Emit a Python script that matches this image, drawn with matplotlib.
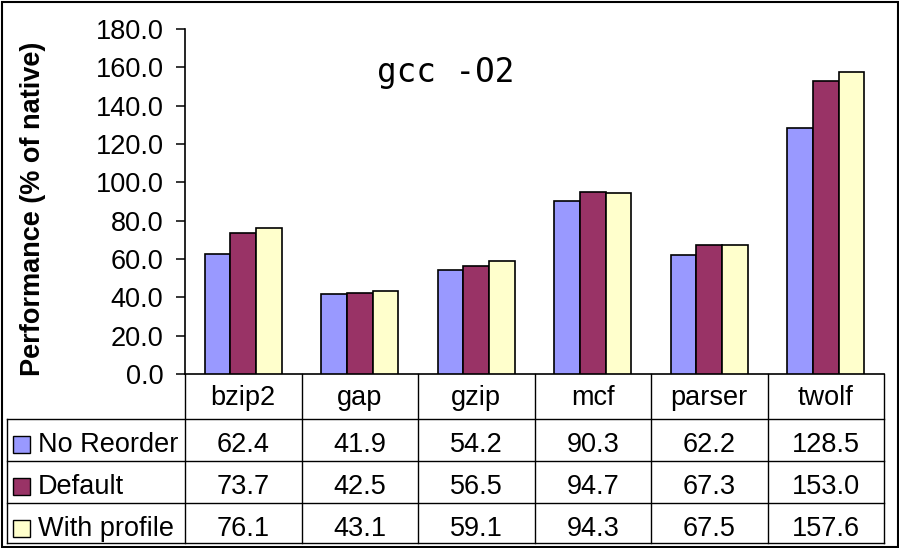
import matplotlib.pyplot as plt
from matplotlib.patches import Rectangle

benchmarks = ["bzip2", "gap", "gzip", "mcf", "parser", "twolf"]
series_names = ["No Reorder", "Default", "With profile"]
no_reorder = [62.4, 41.9, 54.2, 90.3, 62.2, 128.5]
default = [73.7, 42.5, 56.5, 94.7, 67.3, 153.0]
with_profile = [76.1, 43.1, 59.1, 94.3, 67.5, 157.6]
colors = ["#9999FF", "#993366", "#FFFFCC"]
yticks = [0, 20, 40, 60, 80, 100, 120, 140, 160, 180]

W, H = 899, 548
FONT = "Liberation Sans"
FS = 19.5


def px_rect(x0, y0, x1, y1):
    # pixel box (top-left origin) -> figure fraction [l, b, w, h]
    return [x0 / W, 1 - y1 / H, (x1 - x0) / W, (y1 - y0) / H]


fig = plt.figure(figsize=(W / 100, H / 100), dpi=100)
fig.patch.set_facecolor("white")

# outer frame
fig.add_artist(Rectangle((1.5 / W, 1.5 / H), (W - 3) / W, (H - 3.5) / H,
                         transform=fig.transFigure, fill=False,
                         edgecolor="black", linewidth=1.5))

ax_left, ax_right, ax_top, ax_bottom = 185, 884, 29, 374
ax = fig.add_axes(px_rect(ax_left, ax_top, ax_right, ax_bottom))
n = len(benchmarks)
width = 0.22
all_series = [no_reorder, default, with_profile]
for k, vals in enumerate(all_series):
    xs = [i + 0.5 + (k - 1) * width for i in range(n)]
    ax.bar(xs, vals, width=width, color=colors[k], edgecolor="black",
           linewidth=1.2, zorder=3)

ax.set_xlim(0, n)
ax.set_ylim(0, 180)
ax.set_yticks(yticks)
ax.set_yticklabels([f"{v:.1f}" for v in yticks], fontsize=FS, family=FONT)
ax.tick_params(axis="y", direction="out", length=6.5, width=1.1, pad=9)
ax.set_xticks([])
for s in ["top", "right"]:
    ax.spines[s].set_visible(False)
for s in ["left", "bottom"]:
    ax.spines[s].set_linewidth(1.2)

fig.text(33 / W, 1 - 209 / H, "Performance (% of native)", fontsize=19.5,
         fontweight="bold", family=FONT, rotation=90, ha="center", va="center")
fig.text(446 / W, 1 - 82 / H, "gcc -O2", family="DejaVu Sans Mono",
         fontsize=23.5, ha="center", va="baseline")

# data table under the plot
tab_left, tab_bottom = 7, 543
row_edges = [374, 419, 461, 503, 543]
col_unit = (ax_right - ax_left) / n
x_left = -(ax_left - tab_left) / col_unit
tax = fig.add_axes(px_rect(tab_left, 374, ax_right, tab_bottom))
tax.set_xlim(x_left, n)
tax.set_ylim(tab_bottom, 374)
tax.axis("off")

lw = 1.0
for y in row_edges[1:]:
    tax.plot([x_left, n], [y, y], color="black", lw=lw, clip_on=False)
tax.plot([x_left, x_left], [row_edges[1], tab_bottom], color="black", lw=lw,
         clip_on=False)
for i in range(n + 1):
    tax.plot([i, i], [374, tab_bottom], color="black", lw=lw, clip_on=False)

for i, name in enumerate(benchmarks):
    tax.text(i + 0.5, row_edges[0] + 31, name,
             ha="center", va="baseline", fontsize=FS, family=FONT)

sw = 17 / col_unit
for k, (label, vals) in enumerate(zip(series_names, all_series)):
    base = row_edges[k + 1] + 33
    tax.add_patch(Rectangle((x_left + 6 / col_unit, base - 16), sw, 17,
                            facecolor=colors[k], edgecolor="black",
                            linewidth=1.0, clip_on=False))
    tax.text(x_left + 31 / col_unit, base, label, ha="left", va="baseline",
             fontsize=FS, family=FONT)
    for i, v in enumerate(vals):
        tax.text(i + 0.5, base, f"{v:.1f}", ha="center", va="baseline",
                 fontsize=FS, family=FONT)

fig.savefig("out.png", dpi=100)
